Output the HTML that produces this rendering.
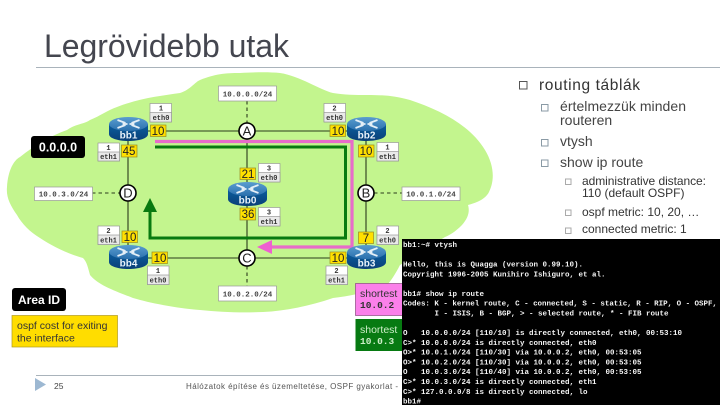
<!DOCTYPE html>
<html>
<head>
<meta charset="utf-8">
<style>
html,body{margin:0;padding:0;background:#fff}
svg{display:block}
text{font-family:"Liberation Sans",sans-serif}
.m{font-family:"Liberation Mono",monospace}
.e{font-family:"Liberation Mono",monospace;font-size:7px;fill:#333;text-anchor:middle;font-weight:bold}
.y{fill:#ffe000;stroke:#9a8a20;stroke-width:.7}
.yt{font-size:11.5px;fill:#222;text-anchor:middle}
.n{fill:#fff;stroke:#999;stroke-width:.7}
.nt{font-family:"Liberation Mono",monospace;font-size:7.5px;font-weight:bold;fill:#444;text-anchor:middle}
.t{font-family:"Liberation Mono",monospace;font-size:7.5px;font-weight:bold;fill:#f4f4f4;white-space:pre}
.b{fill:none}
</style>
</head>
<body>
<svg width="720" height="405" viewBox="0 0 720 405" xmlns="http://www.w3.org/2000/svg">
<defs>
<linearGradient id="rt" x1="0" y1="0" x2="0" y2="1"><stop offset="0" stop-color="#0b5f9e"/><stop offset="1" stop-color="#0a3f78"/></linearGradient>
<linearGradient id="rs" x1="0" y1="0" x2="0" y2="1"><stop offset="0" stop-color="#5a9dd0"/><stop offset="1" stop-color="#2a70ad"/></linearGradient>
<g id="router">
<path d="M-19.5,-5 V5 C-19.5,9.5 -10,12 0,12 C10,12 19.5,9.5 19.5,5 V-5 Z" fill="url(#rt)"/>
<ellipse cx="0" cy="-5" rx="19.5" ry="7" fill="url(#rs)"/>
<path d="M-11,-9 L-3,-6 M-3,-4 L-11,-1 M11,-9 L3,-6 M3,-4 L11,-1 M-6,-5 H-1 M6,-5 H1" stroke="#e4eff7" stroke-width="1.8" fill="none"/>
</g>
</defs>

<rect width="720" height="405" fill="#fff"/>

<!-- Title -->
<text x="44" y="57" font-size="32" fill="#44464f" textLength="245" lengthAdjust="spacing">Legrövidebb utak</text>
<rect x="36" y="67" width="684" height="1" fill="#a9b3bb"/>

<!-- Green area -->
<path d="M7,187 C8,170 14,160 20,157 C35,145 50,136 67,130 C75,124 85,124 90,120 C100,116 108,110 117,107 C140,98 160,96 180,93 C190,90 195,82 200,80 C215,74 225,73 240,73 C258,72 270,72 280,73 C300,76 320,90 333,93 C345,95 355,95 367,95 C385,95 395,96 410,100 C440,110 470,125 485,150 C494,165 495,180 489,192 C485,200 475,203 468,205 C470,212 468,218 462,225 C455,232 450,235 445,237 L400,265 C395,275 390,282 387,285 C370,292 350,296 333,298 C310,306 285,311 263,312 C240,313 220,312 200,310 C175,308 150,303 133,298 C115,291 98,285 90,275 C88,268 87,262 83,258 C68,254 52,246 40,238 C30,232 22,224 17,215 C10,205 6,197 7,187 Z" fill="#c3f58e"/>

<!-- Links -->
<g stroke="#2b3a1c" stroke-width="1.1" fill="none">
<path d="M128,131 H366 M128,258 H366"/>
<path d="M128,131 V258 M366,131 V258 M247,131 V258"/>
<path stroke-dasharray="3.5,3" d="M247,101 V123 M247,266 V286 M92,193 H120 M374,193 H402"/>
</g>

<!-- Pink path -->
<path d="M155,141.500 H352 V247 H270" fill="none" stroke="#e76cc9" stroke-width="3.2"/>
<path d="M257,247 L272,240 V254 Z" fill="#ee5fd0"/>
<!-- Green path -->
<path d="M155,147 H345.500 V238 H150 V210" fill="none" stroke="#087a10" stroke-width="3"/>
<path d="M150,198 L157,212 H143 Z" fill="#087a10"/>

<!-- Nodes -->
<g fill="#fff" stroke="#000" stroke-width="1.6">
<circle cx="247" cy="131" r="8"/>
<circle cx="128" cy="193" r="8"/>
<circle cx="366" cy="193" r="8"/>
<circle cx="247" cy="258" r="8"/>
</g>
<g font-size="13" fill="#222" text-anchor="middle">
<text x="247" y="135.500">A</text>
<text x="128" y="197.500">D</text>
<text x="366" y="197.500">B</text>
<text x="247" y="262.500">C</text>
</g>

<!-- Routers -->
<use href="#router" x="128.500" y="129"/>
<use href="#router" x="366.500" y="129"/>
<use href="#router" x="247.500" y="194"/>
<use href="#router" x="128.500" y="257"/>
<use href="#router" x="366.500" y="257"/>
<g font-size="10" font-weight="bold" fill="#e8f2fa" text-anchor="middle">
<text x="128.500" y="138.500">bb1</text>
<text x="366.500" y="138.500">bb2</text>
<text x="247.500" y="203.500">bb0</text>
<text x="128.500" y="266.500">bb4</text>
<text x="366.500" y="266.500">bb3</text>
</g>

<!-- Cost boxes -->
<rect class="y" x="150.500" y="125" width="15.500" height="11.500"/><text class="yt" x="158" y="135">10</text>
<rect class="y" x="121.500" y="145" width="15.500" height="12"/><text class="yt" x="129" y="155">45</text>
<rect class="y" x="330" y="125" width="15.500" height="11.500"/><text class="yt" x="338" y="135">10</text>
<rect class="y" x="358.500" y="145" width="15.500" height="12"/><text class="yt" x="366" y="155">10</text>
<rect class="y" x="240" y="168" width="15.500" height="11.500"/><text class="yt" x="248" y="178">21</text>
<rect class="y" x="240" y="208" width="15.500" height="12"/><text class="yt" x="248" y="218">36</text>
<rect class="y" x="122" y="231" width="15.500" height="11.500"/><text class="yt" x="130" y="241">10</text>
<rect class="y" x="152" y="252" width="15.500" height="11.500"/><text class="yt" x="160" y="262">10</text>
<rect class="y" x="358.500" y="232" width="15" height="11.500"/><text class="yt" x="366" y="242">7</text>
<rect class="y" x="330" y="252" width="16" height="11.500"/><text class="yt" x="338" y="262">10</text>

<!-- Interface labels -->
<g>
<rect x="150" y="103.500" width="21.500" height="18.500" fill="#fff" stroke="#999" stroke-width=".7"/><rect x="150" y="112.500" width="21.500" height="9.500" fill="#e9e9e9" stroke="#999" stroke-width=".7"/>
<text class="e" x="161" y="110.500">1</text><text class="e" x="161" y="120">eth0</text>
<rect x="98" y="143" width="21.500" height="18" fill="#fff" stroke="#999" stroke-width=".7"/><rect x="98" y="152" width="21.500" height="9" fill="#e9e9e9" stroke="#999" stroke-width=".7"/>
<text class="e" x="108.500" y="150">1</text><text class="e" x="108.500" y="159">eth1</text>
<rect x="324" y="103.500" width="21.500" height="18.500" fill="#fff" stroke="#999" stroke-width=".7"/><rect x="324" y="112.500" width="21.500" height="9.500" fill="#e9e9e9" stroke="#999" stroke-width=".7"/>
<text class="e" x="334.500" y="110.500">2</text><text class="e" x="334.500" y="120">eth0</text>
<rect x="377" y="142.500" width="21.500" height="18.500" fill="#fff" stroke="#999" stroke-width=".7"/><rect x="377" y="151.500" width="21.500" height="9.500" fill="#e9e9e9" stroke="#999" stroke-width=".7"/>
<text class="e" x="387.500" y="149.500">1</text><text class="e" x="387.500" y="159">eth1</text>
<rect x="258.500" y="163.500" width="21.500" height="18.500" fill="#fff" stroke="#999" stroke-width=".7"/><rect x="258.500" y="172.500" width="21.500" height="9.500" fill="#e9e9e9" stroke="#999" stroke-width=".7"/>
<text class="e" x="269" y="170.500">3</text><text class="e" x="269" y="180">eth0</text>
<rect x="258.500" y="207.500" width="21.500" height="18.500" fill="#fff" stroke="#999" stroke-width=".7"/><rect x="258.500" y="216.500" width="21.500" height="9.500" fill="#e9e9e9" stroke="#999" stroke-width=".7"/>
<text class="e" x="269" y="214.500">3</text><text class="e" x="269" y="224">eth1</text>
<rect x="98" y="226" width="21.500" height="18.500" fill="#fff" stroke="#999" stroke-width=".7"/><rect x="98" y="235" width="21.500" height="9.500" fill="#e9e9e9" stroke="#999" stroke-width=".7"/>
<text class="e" x="108.500" y="233">2</text><text class="e" x="108.500" y="242.500">eth1</text>
<rect x="147.500" y="266" width="21.500" height="18.500" fill="#fff" stroke="#999" stroke-width=".7"/><rect x="147.500" y="275" width="21.500" height="9.500" fill="#e9e9e9" stroke="#999" stroke-width=".7"/>
<text class="e" x="158" y="273">1</text><text class="e" x="158" y="282.500">eth0</text>
<rect x="377" y="226" width="21.500" height="18.500" fill="#fff" stroke="#999" stroke-width=".7"/><rect x="377" y="235" width="21.500" height="9.500" fill="#e9e9e9" stroke="#999" stroke-width=".7"/>
<text class="e" x="387.500" y="233">2</text><text class="e" x="387.500" y="242.500">eth0</text>
<rect x="326" y="266" width="21.500" height="18.500" fill="#fff" stroke="#999" stroke-width=".7"/><rect x="326" y="275" width="21.500" height="9.500" fill="#e9e9e9" stroke="#999" stroke-width=".7"/>
<text class="e" x="336.500" y="273">2</text><text class="e" x="336.500" y="282.500">eth1</text>
</g>

<!-- Network labels -->
<rect class="n" x="218.500" y="86" width="58" height="15"/><text class="nt" x="247.500" y="96.500">10.0.0.0/24</text>
<rect class="n" x="34.500" y="187" width="58" height="13.500"/><text class="nt" x="63.500" y="196.500">10.0.3.0/24</text>
<rect class="n" x="218.500" y="286" width="58" height="15"/><text class="nt" x="247.500" y="296.500">10.0.2.0/24</text>
<rect class="n" x="402" y="187" width="58" height="13.500"/><text class="nt" x="431" y="196.500">10.0.1.0/24</text>

<!-- Legend -->
<rect x="31" y="136" width="54" height="22" rx="3" fill="#000"/>
<text x="58" y="151.500" font-size="12.500" font-weight="bold" fill="#fff" text-anchor="middle">0.0.0.0</text>
<rect x="12" y="288" width="54" height="23" rx="3" fill="#000"/>
<text x="39" y="304" font-size="12" font-weight="bold" fill="#fff" text-anchor="middle">Area ID</text>
<rect x="12" y="315.500" width="105.500" height="31.500" fill="#ffdd00" stroke="#b09a20" stroke-width=".7"/>
<text x="17" y="329" font-size="10.500" fill="#333">ospf cost for exiting</text>
<text x="17" y="341.500" font-size="10.500" fill="#333">the interface</text>

<!-- Shortest boxes -->
<rect x="355.500" y="283.500" width="47" height="32" fill="#fb80ea" stroke="#8a4a80" stroke-width=".7"/>
<text x="360" y="297" font-size="10.500" fill="#333">shortest</text>
<text x="360" y="308" class="m" font-size="9.500" font-weight="bold" fill="#333">10.0.2</text>
<rect x="355.500" y="319" width="47" height="32" fill="#077a12"/>
<text x="360" y="333" font-size="10.500" fill="#cdeec8">shortest</text>
<text x="360" y="344" class="m" font-size="9.500" font-weight="bold" fill="#cdeec8">10.0.3</text>

<!-- Footer -->
<rect x="36" y="375" width="366" height="1" fill="#a9b3bb"/>
<path d="M35,378 L46,384.500 L35,391 Z" fill="#9db8d2"/>
<text x="54" y="389" font-size="8.500" fill="#444">25</text>
<text x="186" y="389" font-size="8" fill="#555" textLength="212" lengthAdjust="spacing">Hálózatok építése és üzemeltetése, OSPF gyakorlat -</text>

<!-- Bullets -->
<rect x="519.500" y="81.500" width="7.500" height="7.500" class="b" stroke="#555" stroke-width="1"/>
<text x="539" y="90" font-size="15.500" fill="#333" textLength="101" lengthAdjust="spacing">routing táblák</text>
<rect x="541.500" y="104.500" width="6.500" height="6.500" class="b" stroke="#8a9aa5" stroke-width="1"/>
<text x="560" y="111" font-size="14" fill="#444" textLength="126" lengthAdjust="spacing">értelmezzük minden</text>
<text x="560" y="125" font-size="14" fill="#444">routeren</text>
<rect x="541.500" y="139.500" width="6.500" height="6.500" class="b" stroke="#8a9aa5" stroke-width="1"/>
<text x="560" y="146" font-size="14" fill="#444">vtysh</text>
<rect x="541.500" y="160" width="6.500" height="6.500" class="b" stroke="#8a9aa5" stroke-width="1"/>
<text x="560" y="167" font-size="14" fill="#444">show ip route</text>
<rect x="565.500" y="179" width="5.500" height="5.500" class="b" stroke="#aaa" stroke-width="1"/>
<text x="582" y="185" font-size="12" fill="#333" textLength="124" lengthAdjust="spacing">administrative distance:</text>
<text x="582" y="197" font-size="12" fill="#333">110 (default OSPF)</text>
<rect x="565.500" y="210" width="5.500" height="5.500" class="b" stroke="#aaa" stroke-width="1"/>
<text x="582" y="216" font-size="12" fill="#333">ospf metric: 10, 20, …</text>
<rect x="565.500" y="228" width="5.500" height="5.500" class="b" stroke="#aaa" stroke-width="1"/>
<text x="582" y="233" font-size="12" fill="#333">connected metric: 1</text>

<!-- Terminal -->
<rect x="402" y="239" width="318" height="166" fill="#000"/>
<text class="t" x="403" y="247">bb1:~# vtysh</text>
<text class="t" x="403" y="266.500">Hello, this is Quagga (version 0.99.10).</text>
<text class="t" x="403" y="276.300">Copyright 1996-2005 Kunihiro Ishiguro, et al.</text>
<text class="t" x="403" y="296">bb1# show ip route</text>
<text class="t" x="403" y="305.700" textLength="314" lengthAdjust="spacing">Codes: K - kernel route, C - connected, S - static, R - RIP, O - OSPF,</text>
<text class="t" x="403" y="315.500">       I - ISIS, B - BGP, &gt; - selected route, * - FIB route</text>
<text class="t" x="403" y="335">O   10.0.0.0/24 [110/10] is directly connected, eth0, 00:53:10</text>
<text class="t" x="403" y="344.800">C&gt;* 10.0.0.0/24 is directly connected, eth0</text>
<text class="t" x="403" y="354.600">O&gt;* 10.0.1.0/24 [110/30] via 10.0.0.2, eth0, 00:53:05</text>
<text class="t" x="403" y="364.400">O&gt;* 10.0.2.0/24 [110/30] via 10.0.0.2, eth0, 00:53:05</text>
<text class="t" x="403" y="374.200">O   10.0.3.0/24 [110/40] via 10.0.0.2, eth0, 00:53:05</text>
<text class="t" x="403" y="384">C&gt;* 10.0.3.0/24 is directly connected, eth1</text>
<text class="t" x="403" y="393.800">C&gt;* 127.0.0.0/8 is directly connected, lo</text>
<text class="t" x="403" y="403.500">bb1#</text>
</svg>
</body>
</html>
